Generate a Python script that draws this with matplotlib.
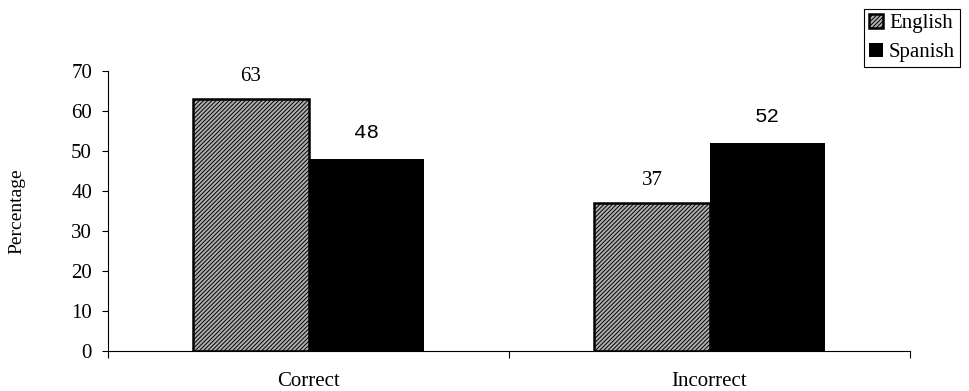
import numpy as np
import matplotlib
matplotlib.use("Agg")
import matplotlib.pyplot as plt

# data
categories = ["Correct", "Incorrect"]
english = [63, 37]
spanish = [48, 52]
yticks = [0, 10, 20, 30, 40, 50, 60, 70]

plt.rcParams['font.family'] = ['Liberation Serif', 'DejaVu Serif']
plt.rcParams['hatch.linewidth'] = 0.7
plt.rcParams['hatch.color'] = '#2a2a2a'

fig = plt.figure(figsize=(9.69, 3.91), dpi=100)
ax = fig.add_axes([108/969, 40/391, 802/969, 280/391])

x = np.arange(len(categories))
w = 0.287
ax.bar(x - w/2, english, width=w, facecolor='#b0b0b0', edgecolor='black',
       linewidth=1.8, hatch='////////', label='English')
ax.bar(x + w/2, spanish, width=w, facecolor='black', edgecolor='black',
       linewidth=0, label='Spanish')

# value labels
for xi, v in zip(x - w/2, english):
    ax.text(xi, v + 5.6, str(v), ha='center', va='center', fontsize=15,
            family=['Liberation Serif'])
for xi, v in zip(x + w/2, spanish):
    ax.text(xi, v + 6.6, str(v), ha='center', va='center', fontsize=15,
            family=['Liberation Mono', 'DejaVu Sans Mono'])

ax.set_xlim(-0.5, 1.5)
ax.set_ylim(0, 70)
ax.set_yticks(yticks)
ax.set_yticklabels([str(t) for t in yticks], fontsize=15)
ax.set_xticks([-0.5, 0.5, 1.5])
ax.set_xticklabels([])
ax.tick_params(axis='x', direction='out', length=5, width=0.8)
ax.tick_params(axis='y', direction='out', length=4.5, width=0.8, pad=7)
for i, c in enumerate(categories):
    ax.text(i, -7.6, c, ha='center', va='center', fontsize=15)

for s in ['top', 'right']:
    ax.spines[s].set_visible(False)
ax.spines['left'].set_linewidth(0.8)
ax.spines['bottom'].set_linewidth(0.8)

fig.text(17/969, 1 - 211/391, "Percentage", rotation=90, ha='center',
         va='center', fontsize=14)

leg = fig.legend(loc='upper left', bbox_to_anchor=(864/969, 1 - 9/391),
                 borderaxespad=0, fancybox=False, edgecolor='black',
                 fontsize=15, handlelength=0.65, handleheight=0.65,
                 handletextpad=0.3, labelspacing=0.45, borderpad=0.25,
                 framealpha=1)
leg.get_frame().set_linewidth(0.8)

fig.savefig("out.png", dpi=100)
